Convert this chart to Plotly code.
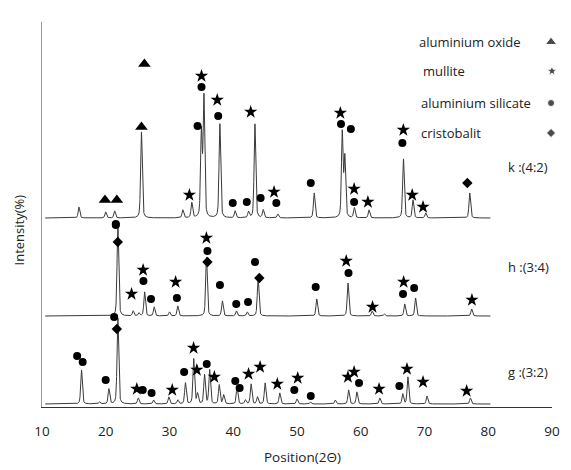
import numpy as np
import plotly.graph_objects as go

# ---------------- data ----------------
# baselines (vertical offsets) of the three stacked patterns, in intensity units
base_k, base_h, base_g = 189, 91, 3

# peak positions (2theta) and heights for each pattern
k_pos = [15.8, 20.0, 21.4, 25.6, 32.1, 33.5, 35.0, 35.4, 37.9, 40.3, 42.4, 43.4, 44.7, 47.0,
         52.7, 57.1, 57.5, 59.0, 61.3, 66.7, 68.2, 70.2, 77.1]
k_hgt = [11, 6, 7, 86, 8, 15, 85, 120, 94, 7, 6, 94, 8, 4,
         25, 85, 60, 10, 8, 59, 18, 5, 25]

h_pos = [21.9, 24.3, 25.2, 26.1, 27.6, 30.0, 31.3, 35.8, 38.3, 40.5, 42.2, 43.9,
         53.1, 58.0, 61.8, 63.7, 66.9, 68.6, 77.4]
h_hgt = [91, 5, 3, 24, 9, 4, 10, 59, 15, 5, 4, 38,
         17, 33, 5, 2, 12, 18, 7]

g_pos = [16.2, 19.0, 20.5, 21.9, 25.1, 27.5, 29.9, 31.3, 32.5, 33.8, 34.4, 35.5, 36.3, 37.8,
         38.5, 40.6, 41.9, 42.8, 43.8, 45.0, 47.3, 50.0, 52.1, 56.0, 58.1, 59.4, 63.0,
         66.6, 67.4, 70.4, 77.2]
g_hgt = [34, 2, 15, 86, 6, 4, 7, 4, 21, 45, 10, 29, 34, 19,
         9, 17, 4, 20, 7, 21, 11, 5, 2, 4, 14, 12, 6,
         10, 27, 8, 6]

# phase labels: (2theta, level)
oxide_x = [19.88, 21.74, 25.60, 26.06]
oxide_y = [207, 207, 280, 343]

mullite_x = [33.12, 35.02, 37.49, 42.74, 46.40, 56.80, 58.96, 61.12, 66.68, 68.07, 69.77,
             24.05, 25.86, 30.96, 35.79, 57.72, 61.85, 66.73, 77.44,
             24.87, 30.43, 33.78, 34.29, 37.03, 42.40, 44.21, 46.91, 50.11, 57.99, 58.96,
             62.87, 67.25, 69.77, 76.61]
mullite_y = [212, 331, 307, 295, 215, 294, 218, 205, 277, 212, 200,
             113, 137, 125, 169, 146, 100, 125, 107,
             18, 17, 59, 37, 30, 33, 40, 23, 29, 30, 35,
             18, 38, 25, 16]

silicate_x = [21.58, 34.40, 35.02, 37.64, 39.92, 42.12, 44.29, 46.76, 52.16, 56.90, 58.45,
              58.96, 66.53,
              21.58, 25.91, 27.10, 31.16, 35.95, 37.91, 40.47, 42.32, 43.41, 52.93, 58.08,
              66.63, 68.38,
              15.51, 16.38, 19.99, 21.32, 25.80, 27.19, 32.29, 35.84, 40.32, 41.00, 49.58,
              52.16, 59.73, 66.06]
silicate_y = [182, 281, 320, 291, 204, 205, 209, 204, 224, 283, 278,
              205, 264,
              183, 126, 108, 109, 156, 122, 103, 105, 145, 120, 134,
              113, 119,
              51, 45, 27, 90, 17, 14, 35, 43, 26, 19, 17,
              11, 24, 21]

cristo_x = [76.72, 21.89, 35.95, 44.09, 21.74]
cristo_y = [224, 165, 145, 129, 78]

legend_names = ["aluminium oxide", "mullite", "aluminium silicate", "cristobalit"]
legend_y = [365, 336, 304, 274]
sample_names = ["k :(4:2)", "h :(3:4)", "g :(3:2)"]
sample_y = [240, 140, 35]

x_ticks = [10, 20, 30, 40, 50, 60, 70, 80, 90]

# ---------------- build profiles ----------------
x = np.arange(10.5, 80.35, 0.02)


def profile(pos, hgt, base, fwhm=0.3):
    y = np.full_like(x, float(base))
    s = fwhm / 2.3548
    g = fwhm / 2
    for p, h in zip(pos, hgt):
        gauss = np.exp(-0.5 * ((x - p) / s) ** 2)
        lor = 1.0 / (1.0 + ((x - p) / g) ** 2)
        y += h * (0.6 * gauss + 0.4 * lor)
    return y


FONT = "Open Sans"
TXT = "#222222"
fig = go.Figure()
for pos, hgt, base in [(k_pos, k_hgt, base_k), (h_pos, h_hgt, base_h), (g_pos, g_hgt, base_g)]:
    fig.add_trace(go.Scatter(x=x, y=profile(pos, hgt, base), mode="lines",
                             line=dict(color="#3a3a3a", width=1), hoverinfo="skip"))

sym = [("triangle-up", 11, oxide_x, oxide_y), ("star", 10, mullite_x, mullite_y),
       ("circle", 8, silicate_x, silicate_y), ("diamond", 8, cristo_x, cristo_y)]
for s, size, xs, ys in sym:
    fig.add_trace(go.Scatter(x=xs, y=ys, mode="markers",
                             marker=dict(symbol=s, size=size, color="black"), cliponaxis=False))

# legend symbols (right column)
fig.add_trace(go.Scatter(x=[89.85, 89.99, 89.85, 89.85], y=legend_y, mode="markers",
                         marker=dict(symbol=["triangle-up", "star", "circle", "diamond"],
                                     size=[10, 8, 7, 7], color="black"),
                         cliponaxis=False))

annotations = []
for name, yy, xl in zip(legend_names, legend_y, [68.84, 69.46, 69.15, 69.15]):
    annotations.append(dict(x=xl, y=yy, text=name, showarrow=False, xanchor="left",
                            yanchor="middle", font=dict(family=FONT, size=13, color=TXT)))
for name, yy in zip(sample_names, sample_y):
    annotations.append(dict(x=82.8, y=yy, text=name, showarrow=False, xanchor="left",
                            yanchor="middle", font=dict(family=FONT, size=13, color=TXT)))
annotations.append(dict(xref="paper", yref="paper", x=-0.046, y=0.46, text="Intensity(%)",
                        textangle=-90, showarrow=False, xanchor="center", yanchor="middle",
                        font=dict(family=FONT, size=13, color=TXT)))
annotations.append(dict(xref="paper", yref="paper", x=0.51, y=-0.13, text="Position(2Θ)",
                        showarrow=False, xanchor="center", yanchor="middle",
                        font=dict(family=FONT, size=13.5, color=TXT)))

fig.update_layout(
    width=571, height=470, showlegend=False,
    margin=dict(l=42, r=11, t=22, b=63),
    plot_bgcolor="white", paper_bgcolor="white",
    annotations=annotations,
    xaxis=dict(range=[10, 90], tickvals=x_ticks, ticktext=[str(t) for t in x_ticks],
               showgrid=False, zeroline=False, showline=True, linecolor="#333", linewidth=1,
               ticks="", ticklen=0, ticklabelstandoff=12,
               tickfont=dict(family=FONT, size=13.5, color=TXT)),
    yaxis=dict(range=[0, 385], showgrid=False, zeroline=False, showline=True,
               linecolor="#999", linewidth=1, showticklabels=False, ticks=""),
)
fig.write_html("out.html")
